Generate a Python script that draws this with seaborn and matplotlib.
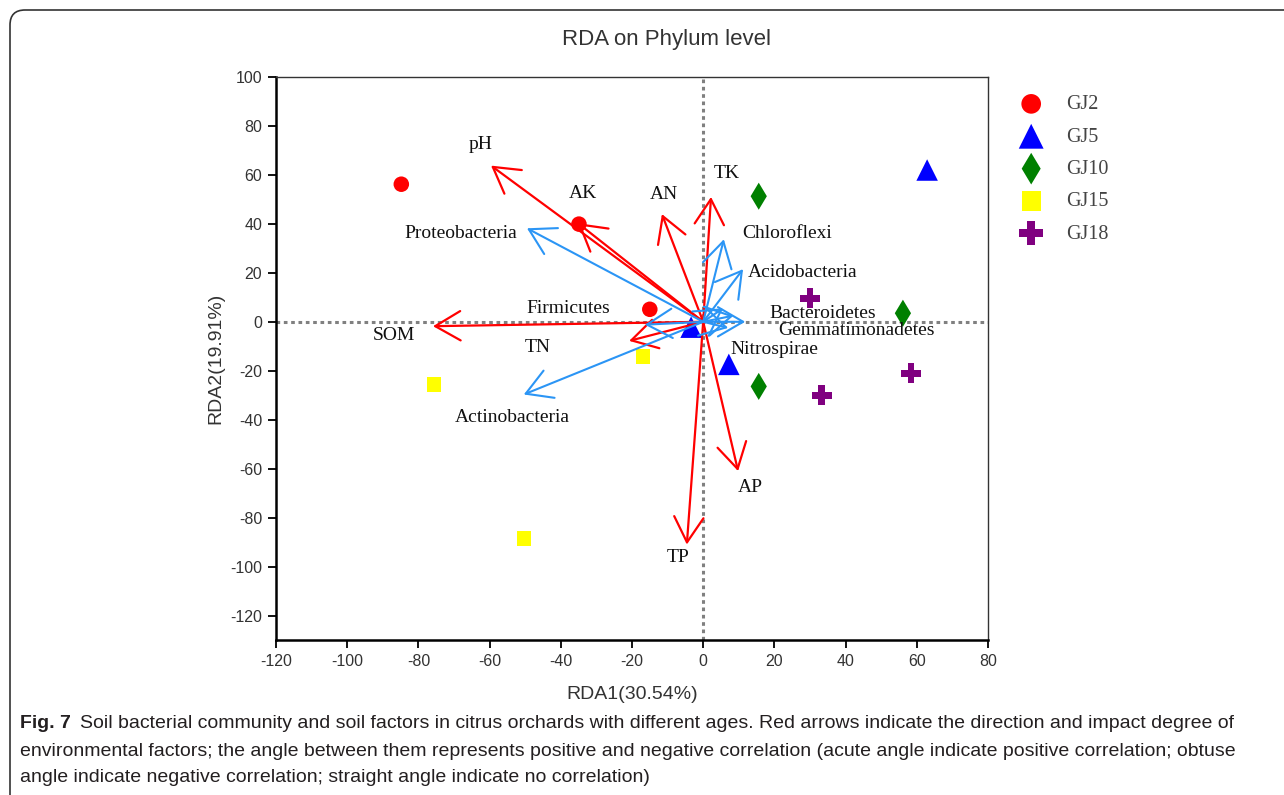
import numpy as np
import pandas as pd
import matplotlib
matplotlib.use("Agg")
import matplotlib.pyplot as plt
from matplotlib.patches import FancyBboxPatch
import seaborn as sns

# ---------------- data ----------------
groups = ["GJ2", "GJ5", "GJ10", "GJ15", "GJ18"]
sample_group = ["GJ2", "GJ2", "GJ2",
                "GJ5", "GJ5", "GJ5",
                "GJ10", "GJ10", "GJ10",
                "GJ15", "GJ15", "GJ15",
                "GJ18", "GJ18", "GJ18"]
sample_rda1 = [-84.8, -34.9, -15.0,
               62.9, -3.4, 7.2,
               15.6, 56.1, 15.6,
               -75.6, -16.9, -50.3,
               30.0, 58.4, 33.3]
sample_rda2 = [56.2, 39.9, 5.1,
               62.0, -2.2, -17.4,
               51.3, 3.5, -26.4,
               -25.6, -14.1, -88.5,
               9.6, -21.0, -30.0]

env_names = ["pH", "AK", "AN", "TK", "SOM", "TN", "TP", "AP"]
env_rda1 = [-59.6, -35.2, -11.6, 2.2, -75.9, -20.8, -4.6, 9.8]
env_rda2 = [63.8, 40.3, 44.0, 51.0, -1.8, -7.8, -91.0, -61.0]
env_label_x = [-62.5, -33.8, -11.0, 6.7, -87.0, -46.5, -7.0, 13.2]
env_label_y = [72.3, 52.5, 52.0, 60.5, -5.8, -10.7, -96.5, -67.5]

phy_names = ["Proteobacteria", "Actinobacteria", "Firmicutes", "Chloroflexi",
             "Acidobacteria", "Bacteroidetes", "Gemmatimonadetes", "Nitrospirae", ""]
phy_rda1 = [-49.5, -50.4, -16.4, 5.8, 11.2, 5.6, 11.8, 7.0, 8.5]
phy_rda2 = [38.2, -29.7, -1.2, 33.7, 21.5, 5.5, 0.0, -2.5, 2.5]
phy_label_x = [-68.0, -53.5, -38.0, 23.5, 28.0, 33.5, 43.0, 20.0, 0]
phy_label_y = [36.0, -39.0, 5.5, 36.0, 20.0, 3.5, -3.5, -11.5, 0]

# ---------------- style ----------------
sns.set_theme(style="white")
plt.rcParams["font.family"] = ["Liberation Sans", "DejaVu Sans"]
plt.rcParams["axes.unicode_minus"] = False

fig = plt.figure(figsize=(12.84, 7.95), dpi=100)
ax = fig.add_axes([276 / 1284, 1 - 640 / 795, (988 - 276) / 1284, (640 - 77) / 795])

ax.set_xlim(-120, 80)
ax.set_ylim(-130, 100)

# reference dotted lines
ax.axhline(0, color="#808080", linestyle=(0, (1.2, 1.2)), linewidth=2.2, zorder=1)
ax.axvline(0, color="#808080", linestyle=(0, (1.2, 1.2)), linewidth=2.2, zorder=1)

df = pd.DataFrame({"group": sample_group, "RDA1": sample_rda1, "RDA2": sample_rda2})
palette = {"GJ2": "#ff0000", "GJ5": "#0000ff", "GJ10": "#008000", "GJ15": "#ffff00", "GJ18": "#800080"}
markers = {"GJ2": "o", "GJ5": "^", "GJ10": "d", "GJ15": "s", "GJ18": "P"}
sizes_map = {"GJ2": 125, "GJ5": 240, "GJ10": 190, "GJ15": 110, "GJ18": 210}
legend_sizes = {"GJ2": 200, "GJ5": 320, "GJ10": 260, "GJ15": 190, "GJ18": 300}

for g in groups:
    sub = df[df["group"] == g]
    sns.scatterplot(data=sub, x="RDA1", y="RDA2", color=palette[g], marker=markers[g],
                    s=sizes_map[g], edgecolor="none", linewidth=0, ax=ax, zorder=3, label=g)

# environmental arrows (red)
for name, x, y, lx, ly in zip(env_names, env_rda1, env_rda2, env_label_x, env_label_y):
    ax.annotate("", xy=(x, y), xytext=(0, 0),
                arrowprops=dict(arrowstyle="->,head_length=0.55,head_width=0.32",
                                color="#ff0000", lw=1.6, shrinkA=0, shrinkB=0,
                                mutation_scale=33), zorder=4)
    ax.text(lx, ly, name, family=["Liberation Serif", "DejaVu Serif"], fontsize=14,
            ha="center", va="center", color="#111111", zorder=5)

# phylum arrows (blue)
for name, x, y, lx, ly in zip(phy_names, phy_rda1, phy_rda2, phy_label_x, phy_label_y):
    ax.annotate("", xy=(x, y), xytext=(0, 0),
                arrowprops=dict(arrowstyle="->,head_length=0.55,head_width=0.32",
                                color="#2b95f5", lw=1.5, shrinkA=0, shrinkB=0,
                                mutation_scale=33), zorder=4)
    if name:
        ax.text(lx, ly, name, family=["Liberation Serif", "DejaVu Serif"], fontsize=14,
                ha="center", va="center", color="#111111", zorder=5)

ax.set_xticks(np.arange(-120, 81, 20))
ax.set_yticks(np.arange(-120, 101, 20))
ax.tick_params(axis="both", which="both", direction="out", length=6, width=1.3,
               color="black", labelsize=11.5, labelcolor="#333333", left=True, bottom=True, pad=4)
for side in ["left", "bottom"]:
    ax.spines[side].set_linewidth(1.8)
    ax.spines[side].set_color("black")
for side in ["top", "right"]:
    ax.spines[side].set_linewidth(1.0)
    ax.spines[side].set_color("#333333")

ax.set_xlabel("RDA1(30.54%)", fontsize=14, color="#333333", labelpad=12)
ax.set_ylabel("RDA2(19.91%)", fontsize=14, color="#333333", labelpad=4)

# legend
handles, labels = ax.get_legend_handles_labels()
leg = ax.legend(handles, labels, loc="upper left", bbox_to_anchor=(1003 / 1284, 1 - 87 / 795),
                bbox_transform=fig.transFigure, frameon=False,
                prop={"family": "Liberation Serif", "size": 14.5}, labelcolor="#444444",
                handletextpad=0.75, labelspacing=0.66, markerscale=1.0, borderaxespad=0)
for h, lab in zip(leg.legend_handles, labels):
    h.set_sizes([legend_sizes[lab]])

# title
fig.text(667 / 1284, 1 - 40 / 795, "RDA on Phylum level", ha="center", va="center",
         fontsize=16, color="#333333")

# caption
cap_kw = dict(fontsize=14, color="#231f20", va="center", ha="left",
              family=["Liberation Sans", "DejaVu Sans"])
fig.text(20 / 1284, 1 - 724 / 795, "Fig. 7", fontweight="bold", **cap_kw)
fig.text(80 / 1284, 1 - 724 / 795,
         "Soil bacterial community and soil factors in citrus orchards with different ages. "
         "Red arrows indicate the direction and impact degree of", **cap_kw)
fig.text(20 / 1284, 1 - 751 / 795,
         "environmental factors; the angle between them represents positive and negative "
         "correlation (acute angle indicate positive correlation; obtuse", **cap_kw)
fig.text(20 / 1284, 1 - 777 / 795,
         "angle indicate negative correlation; straight angle indicate no correlation)", **cap_kw)

# rounded frame (cropped on right and bottom)
frame = FancyBboxPatch((0.10, -1.0), 14.0, 7.85 + 1.0,
                       boxstyle="round,pad=0,rounding_size=0.15",
                       transform=fig.dpi_scale_trans, fill=False,
                       edgecolor="#333333", linewidth=1.2)
fig.patches.append(frame)

fig.savefig("out.png", dpi=100)
